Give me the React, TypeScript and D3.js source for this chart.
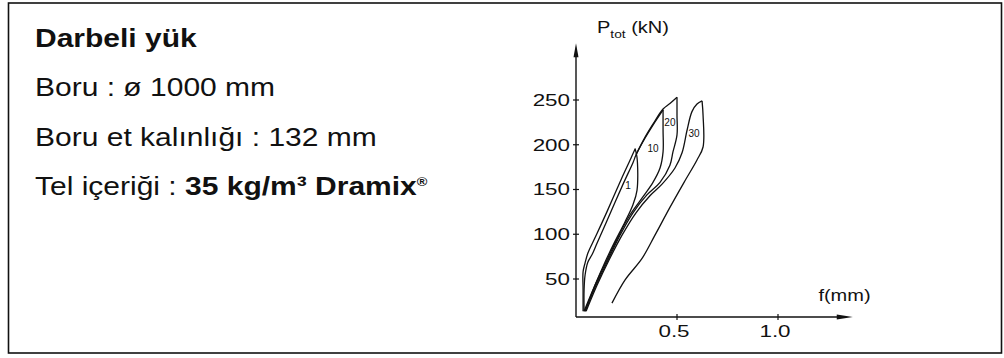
import * as d3 from "d3";

// axis ticks
const yTicks = [50, 100, 150, 200, 250];
const xTicks = [0.5, 1.0];
const xTickLabels = ["0.5", "1.0"];

// load-deflection loops, [f (mm), P (kN)]
const load1: [number, number][] = [
  [0.035, 14], [0.035, 38], [0.035, 58], [0.045, 68], [0.059, 79],
  [0.094, 96], [0.153, 125], [0.223, 161], [0.272, 185], [0.292, 195],
];
const load10: [number, number][] = [
  [0.04, 14], [0.04, 38], [0.045, 54.5], [0.059, 69], [0.079, 77],
  [0.104, 90], [0.163, 120], [0.233, 156], [0.282, 180], [0.297, 188.5],
  [0.342, 207.5], [0.381, 222], [0.431, 239],
];
const load20: [number, number][] = [
  [0.297, 189], [0.342, 208.5], [0.381, 223], [0.431, 240], [0.465, 246], [0.5, 253],
];
const load30: [number, number][] = [
  [0.05, 14], [0.104, 43], [0.163, 71], [0.228, 99], [0.297, 124],
  [0.366, 143], [0.426, 156], [0.49, 174], [0.525, 191], [0.55, 216.5],
  [0.574, 237], [0.599, 245.5], [0.624, 249],
];
const unload1: [number, number][] = [
  [0.292, 196], [0.302, 186], [0.302, 149], [0.282, 133], [0.243, 114],
  [0.193, 92], [0.144, 69], [0.094, 43], [0.045, 14],
];
const unload10: [number, number][] = [
  [0.431, 239], [0.431, 216.5], [0.431, 192], [0.416, 174], [0.381, 158],
  [0.332, 142], [0.267, 121.5], [0.208, 97], [0.153, 71], [0.094, 43], [0.04, 14],
];
const unload20: [number, number][] = [
  [0.5, 253], [0.5, 233], [0.5, 211], [0.48, 192], [0.465, 177], [0.416, 158],
  [0.351, 144], [0.282, 124], [0.218, 99], [0.158, 71], [0.099, 43], [0.045, 14],
];
const unload30: [number, number][] = [
  [0.624, 249], [0.629, 233], [0.629, 197.5], [0.599, 183], [0.535, 158],
  [0.465, 130], [0.391, 99], [0.327, 73], [0.243, 49], [0.178, 23],
];
const curves = [load1, load10, load20, load30, unload1, unload10, unload20, unload30];

const cycleLabels = ["1", "10", "20", "30"];
const cycleLabelAt: [number, number][] = [[0.257, 154], [0.381, 196], [0.465, 225], [0.584, 213]];

const infoLines = ["Boru : ø 1000 mm", "Boru et kalınlığı : 132 mm"];

export default function App() {
  const width = 1004;
  const height = 358;
  const x = d3.scaleLinear().domain([0, 1]).range([576, 778]);
  const y = d3.scaleLinear().domain([50, 250]).range([279, 100]);
  const line = d3
    .line<[number, number]>()
    .x((d) => x(d[0]))
    .y((d) => y(d[1]))
    .curve(d3.curveCatmullRom.alpha(0.5));

  const x0 = x(0);
  const yAxisY = y(7.5);
  const yTop = y(313.5);
  const xEnd = x(1.37);
  const font = "'Liberation Sans', Arial, Helvetica, sans-serif";

  return (
    <svg
      width={width}
      height={height}
      viewBox={`0 0 ${width} ${height}`}
      style={{ position: "absolute", left: 0, top: 0, background: "#fff" }}
      fontFamily={font}
    >
      <rect x={0} y={0} width={width} height={height} fill="#fff" />
      <rect x={8.5} y={3} width={993} height={350} fill="none" stroke="#111" strokeWidth={1.6} />

      {/* left text block */}
      <g transform="translate(35,0) scale(1.2,1)" fill="#111">
        <text x={0} y={47} fontSize={25} fontWeight={700}>Darbeli yük</text>
        {infoLines.map((t, i) => (
          <text key={t} x={0} y={96 + i * 50} fontSize={25}>{t}</text>
        ))}
        <text x={0} y={195} fontSize={25}>
          Tel içeriği : <tspan fontWeight={700}>35 kg/m³ Dramix</tspan>
          <tspan fontWeight={700} fontSize={12} dy={-9}>®</tspan>
        </text>
      </g>

      {/* axes */}
      <g stroke="#111" strokeWidth={1.4} fill="none">
        <line x1={x0} y1={yAxisY} x2={x0} y2={yTop + 8} />
        <line x1={x0} y1={yAxisY} x2={xEnd - 10} y2={yAxisY} />
        {yTicks.map((t) => (
          <line key={t} x1={x0 - 3} x2={x0 + 3} y1={y(t)} y2={y(t)} strokeWidth={1.2} />
        ))}
        {xTicks.map((t) => (
          <line key={t} x1={x(t)} x2={x(t)} y1={yAxisY - 3} y2={yAxisY + 3} strokeWidth={1.2} />
        ))}
      </g>
      <path d={`M${x0},${yTop} L${x0 - 2.5},${yTop + 14} L${x0 + 2.5},${yTop + 14} Z`} fill="#111" />
      <path d={`M${xEnd},${yAxisY} L${xEnd - 16},${yAxisY - 2.5} L${xEnd - 16},${yAxisY + 2.5} Z`} fill="#111" />

      {/* tick labels */}
      {yTicks.map((t) => (
        <g key={t} transform={`translate(${x0 - 6},${y(t)}) scale(1.4,1)`}>
          <text textAnchor="end" dominantBaseline="central" fontSize={16} fill="#111">{t}</text>
        </g>
      ))}
      {xTicks.map((t, i) => (
        <g key={t} transform={`translate(${x(t) - 3},${yAxisY + 20}) scale(1.4,1)`}>
          <text textAnchor="middle" fontSize={16} fill="#111">{xTickLabels[i]}</text>
        </g>
      ))}

      {/* axis titles */}
      <g transform={`translate(${x0 + 21},33) scale(1.25,1)`} fill="#111">
        <text fontSize={16}>
          P<tspan fontSize={11} dy={5}>tot</tspan>
          <tspan dy={-5}> (kN)</tspan>
        </text>
      </g>
      <g transform={`translate(${x(1.2)},${yAxisY - 16}) scale(1.25,1)`} fill="#111">
        <text fontSize={16}>f(mm)</text>
      </g>

      {/* loops */}
      <g fill="none" stroke="#111" strokeWidth={1.3} strokeLinejoin="round">
        {curves.map((c, i) => (
          <path key={i} d={line(c) ?? ""} />
        ))}
      </g>
      {cycleLabels.map((l, i) => (
        <text
          key={l}
          x={x(cycleLabelAt[i][0])}
          y={y(cycleLabelAt[i][1])}
          textAnchor="middle"
          dominantBaseline="central"
          fontSize={10}
          fill="#111"
        >
          {l}
        </text>
      ))}
    </svg>
  );
}
